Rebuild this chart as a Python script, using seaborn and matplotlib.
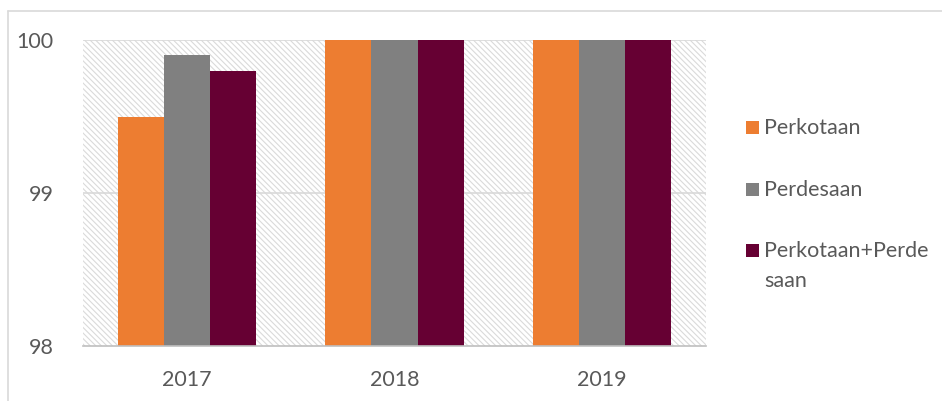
import matplotlib
matplotlib.use("Agg")
import matplotlib.pyplot as plt
from matplotlib.patches import Rectangle
from matplotlib.lines import Line2D
import seaborn as sns
import pandas as pd

years = ["2017", "2018", "2019"]
series = ["Perkotaan", "Perdesaan", "Perkotaan+Perdesaan"]
perkotaan = [99.5, 100.0, 100.0]
perdesaan = [99.9, 100.0, 100.0]
gabungan = [99.8, 100.0, 100.0]
legend_labels = ["Perkotaan", "Perdesaan", "Perkotaan+Perde\nsaan"]
colors = ["#ED7D31", "#808080", "#660033"]
yticks = [98, 99, 100]

df = pd.DataFrame({
    "Tahun": years * 3,
    "Wilayah": [s for s in series for _ in years],
    "Nilai": perkotaan + perdesaan + gabungan,
})

sns.set_theme(style="white")
plt.rcParams["font.family"] = ["Lato", "DejaVu Sans"]
plt.rcParams["hatch.linewidth"] = 0.8
plt.rcParams["hatch.color"] = "#dadada"

fig = plt.figure(figsize=(9.42, 4.01), dpi=100)
ax = fig.add_axes([0.0881, 0.1372, 0.6614, 0.7630])

# hatched plot-area background
ax.add_patch(Rectangle((0, 0), 1, 1, transform=ax.transAxes, facecolor="white",
                       edgecolor="#dadada", hatch="\\\\\\\\\\\\", linewidth=0, zorder=0))

sns.barplot(data=df, x="Tahun", y="Nilai", hue="Wilayah", order=years,
            hue_order=series, palette=colors, width=0.665, saturation=1,
            edgecolor="none", linewidth=0, ax=ax, legend=False, zorder=3)

ax.set_ylim(98, 100)
ax.set_xlim(-0.5, 2.5)
ax.set_yticks(yticks)
ax.set_yticklabels([str(v) for v in yticks])
ax.set_xlabel("")
ax.set_ylabel("")
for y in yticks[1:]:
    ax.axhline(y, color="#d9d9d9", linewidth=1.2, zorder=1)

for side in ["top", "right", "left"]:
    ax.spines[side].set_visible(False)
ax.spines["bottom"].set_color("#bfbfbf")
ax.spines["bottom"].set_linewidth(1.2)
ax.spines["bottom"].set_zorder(4)

ax.tick_params(axis="y", length=0, pad=21, labelsize=15.5, labelcolor="#595959")
ax.tick_params(axis="x", which="major", length=0, pad=17, labelsize=15.5, labelcolor="#595959")
ax.set_xticks([-0.5, 0.5, 1.5, 2.5], minor=True)
ax.tick_params(axis="x", which="minor", length=6, width=1.2, color="#bfbfbf", direction="out")

# legend
legend_y = [0.683, 0.528, 0.377]
for lab, col, y in zip(legend_labels, colors, legend_y):
    fig.add_artist(Rectangle((0.7915, y - 0.017), 0.0138, 0.032, transform=fig.transFigure,
                             facecolor=col, edgecolor="none", zorder=5))
    fig.text(0.8115, y + 0.022, lab, fontsize=15.5, color="#595959", va="top", ha="left",
             linespacing=1.6)

# chart frame
fig.add_artist(Line2D([0.0085, 0.0085], [0, 0.973], transform=fig.transFigure,
                      color="#d9d9d9", linewidth=1.2))
fig.add_artist(Line2D([0.0085, 1], [0.973, 0.973], transform=fig.transFigure,
                      color="#d9d9d9", linewidth=1.2))

fig.savefig("out.png", dpi=100)
